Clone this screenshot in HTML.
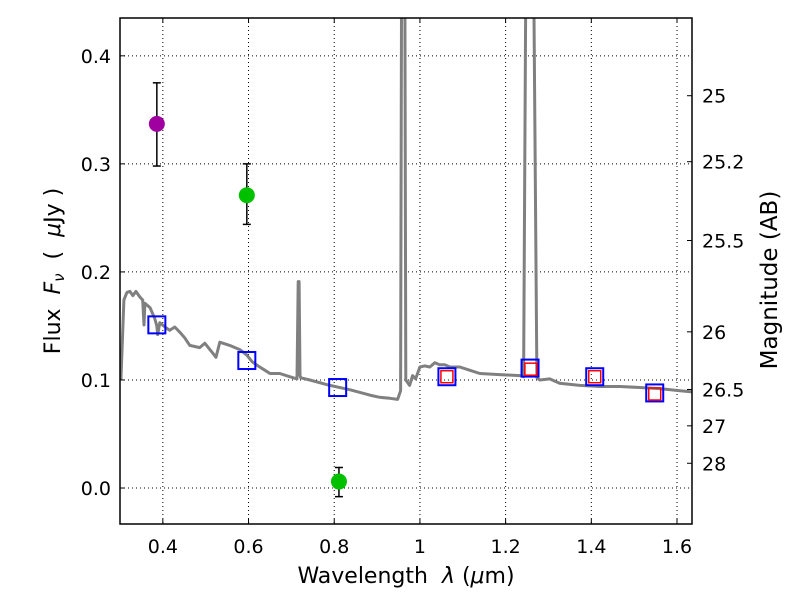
<!DOCTYPE html>
<html><head><meta charset="utf-8"><style>
html,body{margin:0;padding:0;background:#fff;}
svg text{font-family:"DejaVu Sans","Liberation Sans",sans-serif;fill:#000;}
</style></head><body>
<svg id="chart" width="800" height="600" xmlns="http://www.w3.org/2000/svg">
<rect width="800" height="600" fill="#fff"/>
<g id="grid"></g>
<g id="plot"></g>
<g id="axes"></g>
</svg>
<script>
const specWl=[0.302,0.309,0.316,0.323,0.330,0.337,0.346,0.353,0.356,0.358,0.370,0.381,0.386,0.388,0.393,0.405,0.416,0.428,0.440,0.451,0.463,0.486,0.498,0.510,0.520,0.524,0.533,0.556,0.580,0.596,0.608,0.622,0.638,0.650,0.673,0.696,0.713,0.716,0.718,0.720,0.722,0.743,0.790,0.836,0.883,0.906,0.930,0.948,0.955,0.958,0.964,0.967,0.976,0.983,0.990,1.000,1.011,1.023,1.035,1.046,1.058,1.070,1.093,1.116,1.140,1.186,1.233,1.242,1.249,1.263,1.273,1.280,1.303,1.326,1.373,1.420,1.467,1.513,1.560,1.607,1.635];
const specF=[0.100,0.174,0.181,0.182,0.178,0.182,0.177,0.174,0.151,0.171,0.167,0.157,0.150,0.142,0.153,0.149,0.146,0.149,0.144,0.139,0.132,0.130,0.134,0.128,0.123,0.121,0.135,0.132,0.128,0.123,0.117,0.113,0.109,0.106,0.106,0.103,0.101,0.191,0.191,0.104,0.102,0.100,0.095,0.091,0.086,0.084,0.083,0.082,0.090,0.6,0.6,0.100,0.095,0.104,0.101,0.112,0.113,0.112,0.116,0.114,0.114,0.112,0.112,0.109,0.106,0.105,0.104,0.103,0.6,0.6,0.102,0.100,0.101,0.097,0.095,0.094,0.094,0.093,0.092,0.090,0.089];
const modelWl=[0.386,0.596,0.808,1.063,1.257,1.408,1.548];
const modelF=[0.151,0.118,0.093,0.103,0.111,0.103,0.088];
const fitWl=[1.063,1.259,1.408,1.548];
const fitF=[0.103,0.110,0.103,0.087];
const obsWl=[0.386,0.596,0.811];
const obsF=[0.337,0.271,0.006];
const obsLo=[0.298,0.244,-0.008];
const obsHi=[0.375,0.300,0.019];
const obsColor=["#a000a0","#00c000","#00c000"];
const xTicks=[0.4,0.6,0.8,1.0,1.2,1.4,1.6];
const xTickLabels=["0.4","0.6","0.8","1","1.2","1.4","1.6"];
const yTicks=[0.0,0.1,0.2,0.3,0.4];
const yTickLabels=["0.0","0.1","0.2","0.3","0.4"];
const magTicks=[25,25.2,25.5,26,26.5,27,28];
const magTickLabels=["25","25.2","25.5","26","26.5","27","28"];

const L=120,R=692,T=18,B=524;
const xmin=0.3,xmax=1.635,ymin=-0.0333,ymax=0.435;
const X=v=>L+(v-xmin)/(xmax-xmin)*(R-L);
const Y=v=>B-(v-ymin)/(ymax-ymin)*(B-T);
const magToF=m=>Math.pow(10,(23.9-m)/2.5);
const NS="http://www.w3.org/2000/svg";
function mk(tag,attrs,parent){const e=document.createElementNS(NS,tag);for(const k in attrs)e.setAttribute(k,attrs[k]);parent.appendChild(e);return e;}
const grid=document.getElementById('grid'),plot=document.getElementById('plot'),axes=document.getElementById('axes');

const defs=mk('defs',{},document.getElementById('chart'));
const cp=mk('clipPath',{id:'clip'},defs);mk('rect',{x:L,y:T,width:R-L,height:B-T},cp);
plot.setAttribute('clip-path','url(#clip)');

xTicks.forEach((v,i)=>{
  const g=mk('line',{x1:X(v),x2:X(v),y1:T,y2:B,stroke:'#000','stroke-width':1,'stroke-dasharray':'1,3'},grid);
  
  
  mk('line',{x1:X(v),x2:X(v),y1:B,y2:B-5,stroke:'#000'},axes);
  mk('line',{x1:X(v),x2:X(v),y1:T,y2:T+5,stroke:'#000'},axes);
  const t=mk('text',{x:X(v),y:B+29,'text-anchor':'middle','font-size':19},axes);
  t.textContent=xTickLabels[i];
  
  
});
yTicks.forEach((v,i)=>{
  const g=mk('line',{x1:L,x2:R,y1:Y(v),y2:Y(v),stroke:'#000','stroke-width':1,'stroke-dasharray':'1,3'},grid);
  
  
  mk('line',{x1:L,x2:L+5,y1:Y(v),y2:Y(v),stroke:'#000'},axes);
  const t=mk('text',{x:L-9,y:Y(v)+7,'text-anchor':'end','font-size':19},axes);
  t.textContent=yTickLabels[i];
  
  
});
magTicks.forEach((m,i)=>{
  const y=Y(magToF(m));
  mk('line',{x1:R,x2:R-5,y1:y,y2:y,stroke:'#000'},axes);
  const t=mk('text',{x:R+10,y:y+7,'font-size':19},axes);
  t.textContent=magTickLabels[i];
  
  
});

const pts=specWl.map((w,i)=>X(w).toFixed(1)+','+Y(specF[i]).toFixed(1)).join(' ');
const sp=mk('polyline',{points:pts,fill:'none',stroke:'#808080','stroke-width':3,'stroke-linejoin':'round'},plot);



modelWl.forEach((w,i)=>{
  const r=mk('rect',{x:X(w)-8.5,y:Y(modelF[i])-8.5,width:17,height:17,fill:'none',stroke:'#0000ff','stroke-width':2},plot);
  
  
});
fitWl.forEach((w,i)=>{
  const r=mk('rect',{x:X(w)-6,y:Y(fitF[i])-6,width:12,height:12,fill:'none',stroke:'#ff0000','stroke-width':1.5},plot);
  
  
});
obsWl.forEach((w,i)=>{
  const x=X(w);
  const eb=mk('g',{},plot);
  
  
  mk('line',{x1:x,x2:x,y1:Y(obsLo[i]),y2:Y(obsHi[i]),stroke:'#000','stroke-width':1.5},eb);
  mk('line',{x1:x-4,x2:x+4,y1:Y(obsLo[i]),y2:Y(obsLo[i]),stroke:'#000','stroke-width':1.5},eb);
  mk('line',{x1:x-4,x2:x+4,y1:Y(obsHi[i]),y2:Y(obsHi[i]),stroke:'#000','stroke-width':1.5},eb);
  const c=mk('circle',{cx:x,cy:Y(obsF[i]),r:8,fill:obsColor[i]},plot);
  
  
});

const fr=mk('rect',{x:L,y:T,width:R-L,height:B-T,fill:'none',stroke:'#000','stroke-width':1.5},axes);


</script>
<svg style="position:absolute;left:0;top:0" width="800" height="600" xmlns="http://www.w3.org/2000/svg">
<text x="406" y="583" text-anchor="middle" font-size="22" xml:space="preserve">Wavelength  <tspan font-style="italic">λ</tspan> (<tspan font-style="italic">μ</tspan>m)</text>
<text transform="translate(60,271) rotate(-90)" text-anchor="middle" font-size="22" xml:space="preserve">Flux  <tspan font-style="italic">F</tspan><tspan font-style="italic" font-size="15" dy="4">ν</tspan><tspan dy="-4">  (  </tspan><tspan font-style="italic">μ</tspan>Jy )</text>
<text transform="translate(777,280) rotate(-90)" text-anchor="middle" font-size="23">Magnitude (AB)</text>
</svg>
</body></html>
